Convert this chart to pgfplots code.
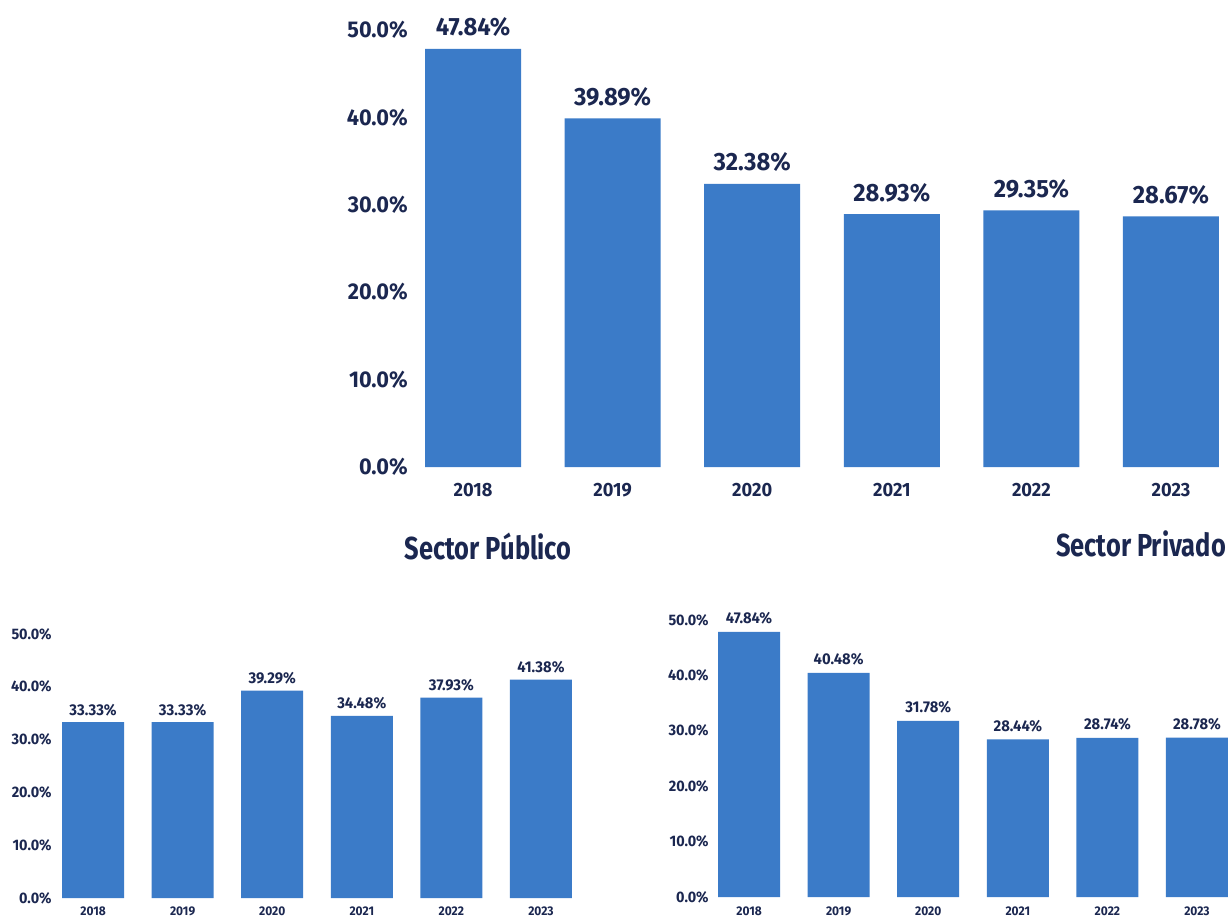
\documentclass[border=0pt]{standalone}
\usepackage{pgfplots}
\usepackage{pgfplotstable}
\pgfplotsset{compat=1.18}
\usepackage{fontspec}
\setmainfont{Fira Sans}[FakeStretch=0.95]
\newfontfamily\titlefont{Fira Sans}[FakeStretch=0.8]
\definecolor{barblue}{HTML}{3B7BC8}
\definecolor{navy}{HTML}{1B2750}

\pgfplotstableread{
x y
0 47.84
1 39.89
2 32.38
3 28.93
4 29.35
5 28.67
}\total
\pgfplotstableread{
x y
0 33.33
1 33.33
2 39.29
3 34.48
4 37.93
5 41.38
}\publico
\pgfplotstableread{
x y
0 47.84
1 40.48
2 31.78
3 28.44
4 28.74
5 28.78
}\privado

\pgfplotsset{
  mybars/.style={
    ybar, bar shift=0pt, scale only axis, clip=false,
    axis line style={draw=none}, major tick length=0pt, tick style={draw=none},
    ymin=0, ymax=50, ytick={0,10,20,30,40,50},
    yticklabels={0.0\%,10.0\%,20.0\%,30.0\%,40.0\%,50.0\%},
    xtick={0,1,2,3,4,5}, xticklabels={2018,2019,2020,2021,2022,2023},
    xmin=-0.42, xmax=5.42,
    /pgf/number format/assume math mode=true,
    nodes near coords={\pgfmathprintnumber[fixed,fixed zerofill,precision=2]{\pgfplotspointmeta}\%},
    every node near coord/.append style={text=navy, anchor=base, inner sep=0pt},
    every tick label/.append style={text=navy},
    title style={text=navy, anchor=center},
  },
}

\begin{document}
\begin{tikzpicture}
\path[use as bounding box] (0,0) rectangle (615pt,458.5pt);

% Top chart
\begin{axis}[mybars,
  at={(208.6pt,225pt)}, anchor=south west,
  width=404.8pt, height=218.5pt,
  xmin=-0.4, xmax=5.4,
  bar width=48pt,
  yticklabel style={anchor=east, inner sep=0pt, xshift=-4.6pt, font=\fontsize{11.4}{12}\selectfont\bfseries},
  xticklabel style={anchor=base, inner sep=0pt, yshift=-14.8pt, font=\fontsize{9.6}{11}\selectfont\bfseries},
  every node near coord/.append style={yshift=6.5pt, font=\fontsize{12.5}{14}\selectfont\bfseries},
]
\addplot[fill=barblue, draw=none] table[x=x,y=y]{\total};
\end{axis}

% Bottom left: Sector Publico
\begin{axis}[mybars,
  at={(27.7pt,9.5pt)}, anchor=south west,
  width=261.6pt, height=132pt,
  bar width=31pt,
  title={\titlefont\fontsize{15.9}{18}\selectfont\bfseries Sector Público},
  title style={at={(rel axis cs:0.827,1)}, yshift=38pt},
  yticklabel style={anchor=east, inner sep=0pt, xshift=-1.7pt, font=\fontsize{7.6}{9}\selectfont\bfseries},
  xticklabel style={anchor=base, inner sep=0pt, yshift=-8.6pt, font=\fontsize{6.3}{8}\selectfont\bfseries},
  every node near coord/.append style={yshift=3.5pt, font=\fontsize{7.8}{9}\selectfont\bfseries},
]
\addplot[fill=barblue, draw=none] table[x=x,y=y]{\publico};
\end{axis}

% Bottom right: Sector Privado
\begin{axis}[mybars,
  at={(355.7pt,10pt)}, anchor=south west,
  width=261.6pt, height=138.5pt,
  bar width=31pt,
  title={\titlefont\fontsize{15.9}{18}\selectfont\bfseries Sector Privado},
  title style={at={(rel axis cs:0.821,1)}, yshift=32pt},
  yticklabel style={anchor=east, inner sep=0pt, xshift=-1.2pt, font=\fontsize{7.6}{9}\selectfont\bfseries},
  xticklabel style={anchor=base, inner sep=0pt, yshift=-9pt, font=\fontsize{6.3}{8}\selectfont\bfseries},
  every node near coord/.append style={yshift=4pt, font=\fontsize{7.8}{9}\selectfont\bfseries},
]
\addplot[fill=barblue, draw=none] table[x=x,y=y]{\privado};
\end{axis}
\end{tikzpicture}
\end{document}
